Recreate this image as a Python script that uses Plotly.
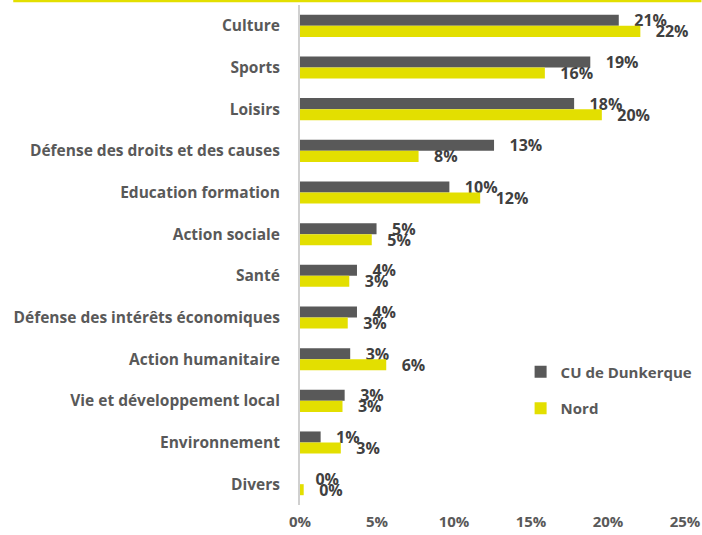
import plotly.graph_objects as go

# Répartition des associations par secteur d'activité
categories = [
    "Culture",
    "Sports",
    "Loisirs",
    "Défense des droits et des causes",
    "Education formation",
    "Action sociale",
    "Santé",
    "Défense des intérêts économiques",
    "Action humanitaire",
    "Vie et développement local",
    "Environnement",
    "Divers",
]
cu_dunkerque = [0.207, 0.1885, 0.178, 0.126, 0.097, 0.0497, 0.037, 0.037, 0.0326, 0.029, 0.0134, 0.0]
nord = [0.221, 0.159, 0.196, 0.077, 0.117, 0.0466, 0.032, 0.031, 0.056, 0.0276, 0.0265, 0.0024]
series_names = ["CU de Dunkerque", "Nord"]
x_ticks = [0, 0.05, 0.10, 0.15, 0.20, 0.25]

GRAY = "#595959"
YELLOW = "#e3df00"
TEXT = "#595959"
FONT = "Open Sans"

fig = go.Figure()
for name, vals, col in [
    (series_names[0], cu_dunkerque, GRAY),
    (series_names[1], nord, YELLOW),
]:
    fig.add_trace(go.Bar(
        y=categories,
        x=vals,
        name=name,
        orientation="h",
        marker=dict(color=col, line=dict(width=0)),
        texttemplate="\u00a0\u00a0\u00a0%{x:.0%}",
        textposition="outside",
        constraintext="none",
        cliponaxis=False,
        textfont=dict(family=FONT, size=16, color="#404040", weight="bold"),
        legendgroup=name,
    ))

fig.update_layout(
    width=702,
    height=535,
    margin=dict(l=299.5, r=16.5, t=5, b=30, autoexpand=False),
    paper_bgcolor="white",
    plot_bgcolor="white",
    barmode="group",
    bargap=0.47,
    bargroupgap=0,
    font=dict(family=FONT, color=TEXT, size=15, weight="bold"),
    showlegend=True,
    legend=dict(
        x=0.573, y=0.299, xanchor="left", yanchor="top",
        font=dict(family=FONT, size=15, color=TEXT, weight="bold"),
        traceorder="grouped",
        tracegroupgap=14,
        itemwidth=30,
        bgcolor="rgba(0,0,0,0)",
    ),
    xaxis=dict(
        range=[0, 0.25],
        tickvals=x_ticks,
        tickformat=".0%",
        showgrid=False,
        zeroline=False,
        showline=False,
        ticks="",
        automargin=False,
        ticklabelstandoff=6,
        tickfont=dict(family=FONT, size=15, color=TEXT, weight="bold"),
        fixedrange=True,
    ),
    yaxis=dict(
        categoryorder="array",
        categoryarray=categories,
        autorange="reversed",
        showgrid=False,
        showline=True,
        linecolor="#d0d0d0",
        linewidth=2,
        ticks="",
        automargin=False,
        ticklabelstandoff=15,
        tickfont=dict(family=FONT, size=15.5, color=TEXT, weight="bold"),
        fixedrange=True,
    ),
    shapes=[
        dict(type="line", xref="paper", yref="paper",
             x0=(12 - 299.5) / 386, x1=(702 - 299.5) / 386,
             y0=1 + 4 / 500, y1=1 + 4 / 500,
             line=dict(color=YELLOW, width=2.5)),
    ],
)

fig.write_html("out.html")
